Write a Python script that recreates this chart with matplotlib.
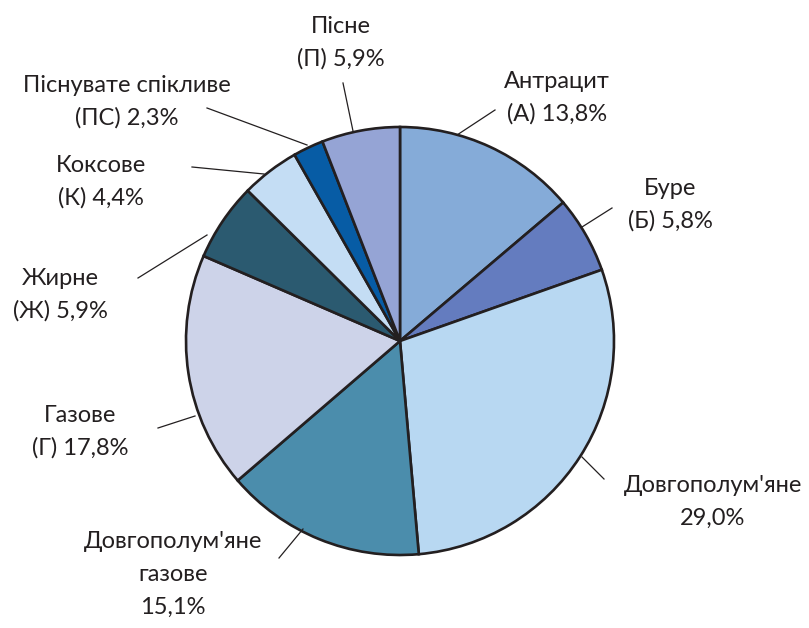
import matplotlib.pyplot as plt

plt.rcParams['font.family'] = ['Lato', 'DejaVu Sans']

# coal grades, share of reserves (%)
names = ['Антрацит', 'Буре', "Довгополум'яне", "Довгополум'яне\nгазове", 'Газове',
         'Жирне', 'Коксове', 'Піснувате спікливе', 'Пісне']
codes = ['А', 'Б', '', '', 'Г', 'Ж', 'К', 'ПС', 'П']
shares = [13.8, 5.8, 29.0, 15.1, 17.8, 5.9, 4.4, 2.3, 5.9]
colors = ['#85abd8', '#647cbf', '#b8d8f2', '#4b8dac', '#cdd3e9',
          '#2b5a70', '#c4ddf4', '#075ca5', '#95a4d5']

W, H = 809, 628
fig = plt.figure(figsize=(W / 100, H / 100), dpi=100)
ax = fig.add_axes([0, 0, 1, 1])

cx, cy, r = 400, H - 341, 214
ax.pie(shares, colors=colors, startangle=90, counterclock=False,
       radius=r, center=(cx, cy),
       wedgeprops=dict(edgecolor='#231f20', linewidth=1.9))
ax.set_xlim(0, W)
ax.set_ylim(0, H)
ax.set_aspect('equal')
ax.axis('off')

# label anchor (first-line baseline, pixels from top) and leader line ends
label_pos = [(557, 88), (670, 195), (713, 492), (173, 548), (80, 422),
             (60, 285), (101, 172), (127, 92), (341, 33)]
leaders = [((495, 110), (457, 135)), ((612, 208), (582, 227)),
           ((604, 479), (582, 457)), ((279, 558), (303, 529)),
           ((158, 428), (195, 416)), ((138, 278), (207, 235)),
           ((192, 167), (264, 174)), ((207, 108), (307, 145)),
           ((343, 83), (353, 131))]

for name, code, val, (lx, ly), (p0, p1) in zip(names, codes, shares, label_pos, leaders):
    pct = f'{val:.1f}'.replace('.', ',') + '%'
    lines = name.split('\n') + [f'({code}) {pct}' if code else pct]
    for i, line in enumerate(lines):
        ax.text(lx, H - ly - 33 * i, line, ha='center', va='baseline',
                fontsize=17, color='#231f20')
    ax.plot([p0[0], p1[0]], [H - p0[1], H - p1[1]], color='#231f20', lw=0.9)

plt.savefig('out.png', dpi=100)
